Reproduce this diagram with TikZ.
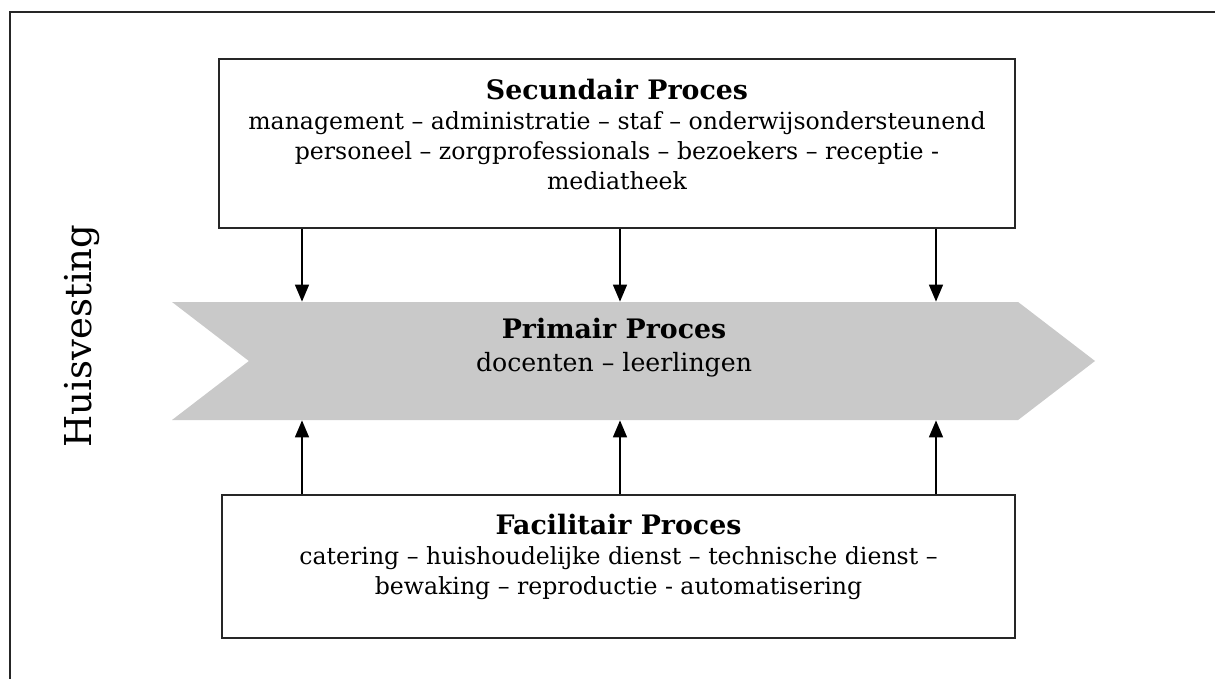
\documentclass[tikz,border=0pt]{standalone}
\usepackage{fontspec}
\setmainfont{DejaVu Serif}
\usetikzlibrary{shapes.symbols,arrows.meta}
\definecolor{chevgray}{gray}{0.79}
\newcommand{\ttl}[1]{{\fontsize{13.4pt}{15pt}\selectfont\textbf{#1}}}
\tikzset{
  procbox/.style={draw=black!85, line width=1pt, rectangle, inner sep=0pt},
  chevron/.style={signal, signal from=west, signal to=east, signal pointer angle=75,
    fill=chevgray, draw=none, inner sep=0pt},
  label/.style={align=center, font=\fontsize{11.8pt}{15pt}\selectfont, inner sep=0pt},
  primlabel/.style={align=center, font=\fontsize{12.6pt}{16.5pt}\selectfont, inner sep=0pt},
  arr/.style={line width=0.8pt, -{Triangle[width=7pt,length=8.5pt]}},
  frame/.style={line width=1pt, draw=black!85}
}
\begin{document}
\begin{tikzpicture}[x=0.5pt,y=-0.5pt]
\useasboundingbox (0,0) rectangle (1215,679);
% outer frame (only top and left visible)
\coordinate (ftr) at (1215,12);
\coordinate (ftl) at (10,12);
\coordinate (fbl) at (10,679);
\draw[frame] (ftr) -- (ftl) -- (fbl);

% secondary box
\node[procbox, minimum width=398pt, minimum height=84.5pt] (sec) at (617,143.5) {};
\node[label] (sectext) at (617,134) {\ttl{Secundair Proces}\\management – administratie – staf – onderwijsondersteunend\\personeel – zorgprofessionals – bezoekers – receptie -\\mediatheek};

% primary chevron
\node[chevron, minimum width=461.5pt, minimum height=59pt] (prim) at (633.5,361) {};
\node[primlabel] (primtext) at (614,348) {\ttl{Primair Proces}\\docenten – leerlingen};

% facilitair box
\node[procbox, minimum width=396.5pt, minimum height=71.5pt] (fac) at (618.5,566.5) {};
\node[label] (factext) at (618.5,557) {\ttl{Facilitair Proces}\\catering – huishoudelijke dienst – technische dienst –\\bewaking – reproductie - automatisering};

% Huisvesting
\node[rotate=90, font=\fontsize{18.5pt}{22pt}\selectfont, inner sep=0pt] (huis) at (82,336) {Huisvesting};

% arrow columns
\coordinate (c1) at (302,0);
\coordinate (c2) at (620,0);
\coordinate (c3) at (936,0);
\foreach \c in {c1,c2,c3}{
  \draw[arr] (sec.south -| \c) -- (prim.north -| \c);
  \draw[arr] (fac.north -| \c) -- (prim.south -| \c);
}
\end{tikzpicture}
\end{document}
